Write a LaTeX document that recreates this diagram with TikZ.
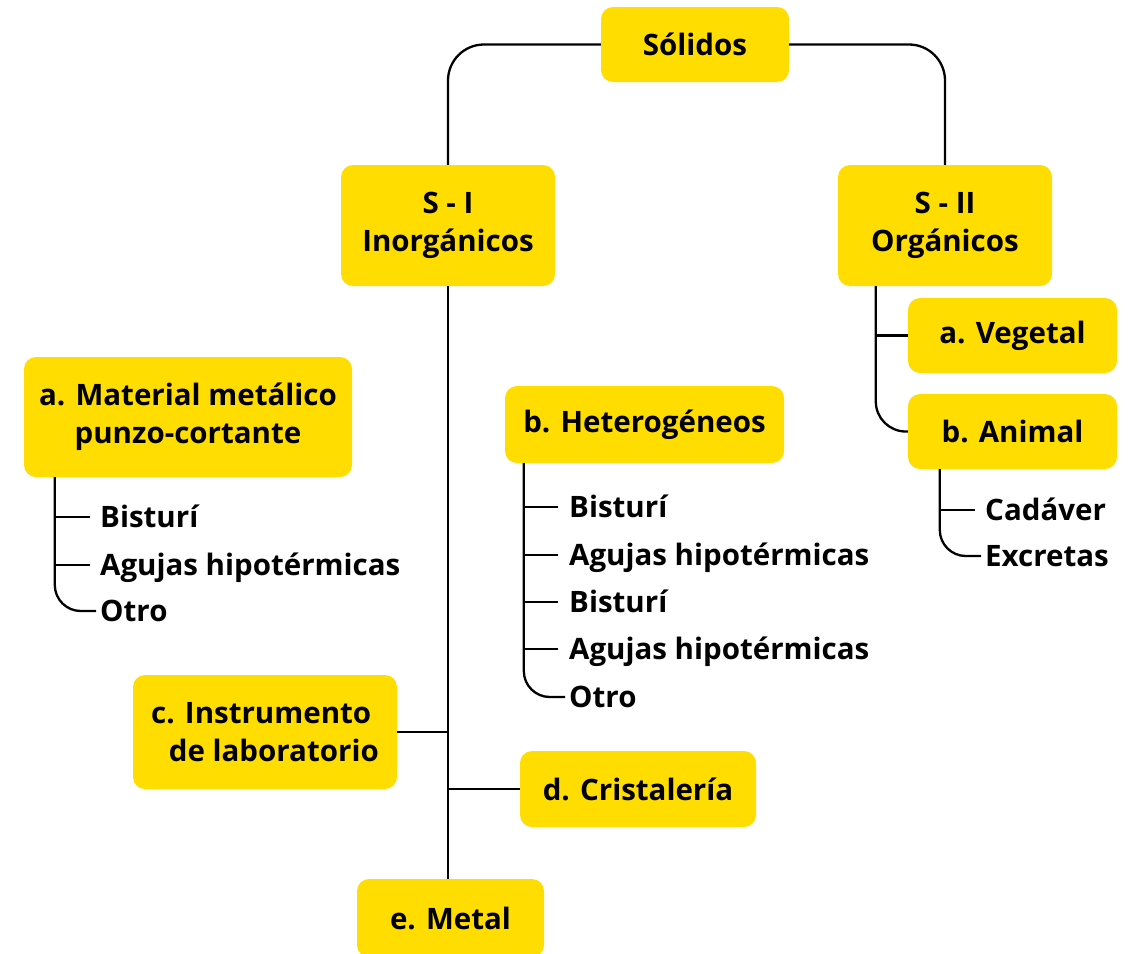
\documentclass[tikz,border=0pt]{standalone}
\usepackage{fontspec}
\setmainfont{Open Sans}
\definecolor{boxyellow}{RGB}{255,221,0}
\tikzset{
  box/.style={fill=boxyellow, rounded corners=12pt, align=center, inner sep=0pt,
    font=\bfseries\fontsize{29.5}{38}\selectfont},
  item/.style={anchor=west, inner sep=0pt, text height=21pt, text depth=0pt,
    font=\bfseries\fontsize{29.5}{38}\selectfont},
  link/.style={line width=2.3pt}
}
\begin{document}
\begin{tikzpicture}[x=1pt,y=-1pt]
	\useasboundingbox (0,0) rectangle (1131,953);
	% boxes
	\node[box,minimum width=188pt,minimum height=75pt] (solidos) at (695,44.5) {Sólidos};
	\node[box,minimum width=214pt,minimum height=121pt] (si) at (448,225.5) {S - I\\Inorgánicos};
	\node[box,minimum width=214pt,minimum height=121pt] (sii) at (945,225.5) {S - II\\Orgánicos};
	\node[box,minimum width=209pt,minimum height=75pt] (veg) at (1012.5,335.5) {a. Vegetal};
	\node[box,minimum width=209pt,minimum height=75pt] (ani) at (1012.5,431.5) {b. Animal};
	\node[box,minimum width=328pt,minimum height=120pt] (mat) at (188,417) {a. Material metálico\\punzo-cortante};
	\node[box,minimum width=279pt,minimum height=77pt] (het) at (644.5,424.5) {b. Heterogéneos};
	\node[box,align=left,minimum width=264pt,minimum height=114pt] (instr) at (265,732) {c. Instrumento\\\hspace*{0.6em}de laboratorio};
	\node[box,minimum width=236pt,minimum height=76pt] (crist) at (638,789) {d. Cristalería};
	\node[box,minimum width=187pt,minimum height=78pt] (metal) at (450.5,918) {e. Metal};
	% list items
	\node[item] (m1) at (100,517) {Bisturí};
	\node[item] (m2) at (100,565) {Agujas hipotérmicas};
	\node[item] (m3) at (100,611) {Otro};
	\node[item] (h1) at (569,507) {Bisturí};
	\node[item] (h2) at (569,555) {Agujas hipotérmicas};
	\node[item] (h3) at (569,602) {Bisturí};
	\node[item] (h4) at (569,649) {Agujas hipotérmicas};
	\node[item] (h5) at (569,697) {Otro};
	\node[item] (a1) at (985,510) {Cadáver};
	\node[item] (a2) at (985,556) {Excretas};
	% top branches
	\draw[link,rounded corners=36pt] (solidos.west) -| (si.north);
	\draw[link,rounded corners=36pt] (solidos.east) -| (sii.north);
	% trunk of S - I
	\draw[link] (si.south) -- (si.south |- metal.north);
	\draw[link] (instr.east) -- (instr.east -| si.south);
	\draw[link] (crist.west) -- (crist.west -| si.south);
	% S - II
	\coordinate (otop) at ([xshift=38pt]sii.south west);
	\draw[link] (otop |- veg.west) -- (veg.west);
	\draw[link,rounded corners=30pt] (otop) |- (ani.west);
	% sub lists
	\coordinate (mtop) at ([xshift=31pt]mat.south west);
	\foreach \n in {m1,m2}
		\draw[link] (mtop |- \n.west) -- ([xshift=-10pt]\n.west);
	\draw[link,rounded corners=26pt] (mtop) |- ([xshift=-4pt]m3.west);
	\coordinate (htop) at ([xshift=19pt]het.south west);
	\foreach \n in {h1,h2,h3,h4}
		\draw[link] (htop |- \n.west) -- ([xshift=-11pt]\n.west);
	\draw[link,rounded corners=26pt] (htop) |- ([xshift=-4pt]h5.west);
	\coordinate (atop) at ([xshift=32pt]ani.south west);
	\draw[link] (atop |- a1.west) -- ([xshift=-10pt]a1.west);
	\draw[link,rounded corners=26pt] (atop) |- ([xshift=-4pt]a2.west);
\end{tikzpicture}
\end{document}
